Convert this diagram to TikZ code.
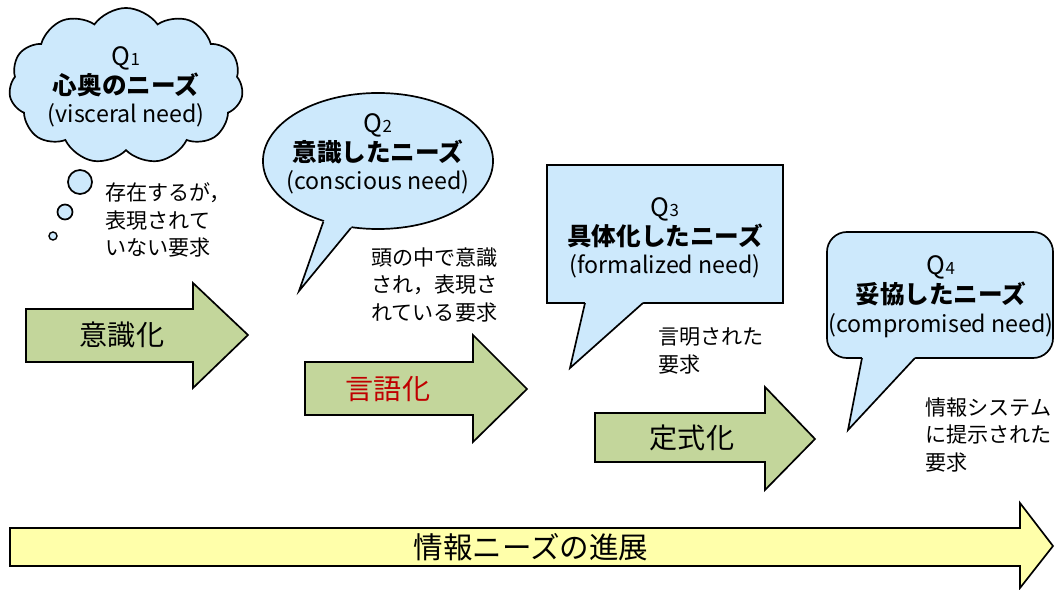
\documentclass[tikz,border=0pt]{standalone}
\usepackage{fontspec}
\setmainfont{Noto Sans CJK JP}
\usetikzlibrary{shapes.symbols,shapes.geometric}

\definecolor{bubblefill}{RGB}{205,233,252}
\definecolor{arrowgreen}{RGB}{195,214,155}
\definecolor{arrowyellow}{RGB}{255,255,170}
\definecolor{darkred}{RGB}{192,0,0}
\newcommand{\qlabel}[1]{{\fontsize{18}{20}\selectfont Q}{\fontsize{12}{12}\selectfont #1}}
\newcommand{\needtitle}[1]{{\fontsize{17.5}{20}\selectfont\bfseries #1}}

\begin{document}
\begin{tikzpicture}[x=0.025cm,y=-0.025cm,
    bubble/.style={draw=black, fill=bubblefill, line width=1.2pt},
    garrow/.style={draw=black, fill=arrowgreen, line width=1.2pt},
    bubbletext/.style={align=center, inner sep=0pt, font=\fontsize{16.5}{20.5}\selectfont},
    note/.style={align=left, inner sep=0pt, anchor=west, font=\fontsize{15}{19.5}\selectfont},
    arrowtext/.style={inner sep=0pt, font=\fontsize{20}{20}\selectfont}]
    \useasboundingbox (0,0) rectangle (1055,590);

    % Q1: cloud
    \node[cloud, bubble, cloud puffs=11, cloud puff arc=110, aspect=1.5,
        minimum width=5.85cm, minimum height=3.9cm] (q1) at (126,86) {};
    \filldraw[bubble] (80,182) circle (12);
    \filldraw[bubble] (65,212) circle (7.5);
    \filldraw[bubble, line width=1pt] (53,236) circle (4);
    \node[bubbletext] (q1t) at (126,87) {\qlabel{1}\\ \needtitle{心奥のニーズ}\\ (visceral need)};
    \node[note] (n1) at (105,220) {存在するが，\\表現されて\\いない要求};

    % Q2: ellipse
    \node[ellipse, bubble, minimum width=5.75cm, minimum height=3.4cm] (q2) at (378,161) {};
    \fill[bubblefill] (q2.228) -- (299,291) -- (q2.248) -- (q2.center) -- cycle;
    \draw[line width=1.2pt] (q2.228) -- (299,291) -- (q2.248);
    \node[bubbletext] (q2t) at (378,154) {\qlabel{2}\\ \needtitle{意識したニーズ}\\ (conscious need)};
    \node[note] (n2) at (371,285) {頭の中で意識\\され，表現さ\\れている要求};

    % Q3: box
    \node[rectangle, bubble, minimum width=5.9cm, minimum height=3.45cm] (q3) at (665,234) {};
    \fill[bubblefill] (585,303) -- (570,368) -- (643,303) -- (643,295) -- (585,295) -- cycle;
    \draw[line width=1.2pt] (585,303) -- (570,368) -- (643,303);
    \node[bubbletext] (q3t) at (665,238) {\qlabel{3}\\ \needtitle{具体化したニーズ}\\ (formalized need)};
    \node[note] (n3) at (658,351) {言明された\\要求};

    % Q4: rounded box
    \node[rectangle, bubble, rounded corners=0.5cm, minimum width=5.65cm, minimum height=3.15cm] (q4) at (940,295) {};
    \fill[bubblefill] (862,358) -- (848,430) -- (915,358) -- (915,350) -- (862,350) -- cycle;
    \draw[line width=1.2pt] (862,358) -- (848,430) -- (915,358);
    \node[bubbletext] (q4t) at (941,297) {\qlabel{4}\\ \needtitle{妥協したニーズ}\\ (compromised need)};
    \node[note] (n4) at (925,435) {情報システム\\に提示された\\要求};

    % green arrows
    \filldraw[garrow] (26,309) -- (193,309) -- (193,283) -- (248,335) -- (193,388) -- (193,362) -- (26,362) -- cycle;
    \node[arrowtext] (a1t) at (122,335) {意識化};
    \filldraw[garrow] (305,362) -- (473,362) -- (473,335) -- (527,389) -- (473,442) -- (473,415) -- (305,415) -- cycle;
    \node[arrowtext, text=darkred] (a2t) at (388,389) {言語化};
    \filldraw[garrow] (595,413) -- (765,413) -- (765,387) -- (815,439) -- (765,490) -- (765,462) -- (595,462) -- cycle;
    \node[arrowtext] (a3t) at (692,438) {定式化};

    % yellow arrow
    \filldraw[draw=black, fill=arrowyellow, line width=1.2pt] (10,528) -- (1020,528) -- (1020,503) -- (1053,546) -- (1020,588) -- (1020,566) -- (10,566) -- cycle;
    \node[inner sep=0pt, font=\fontsize{21}{22}\selectfont] (prog) at (531,547) {情報ニーズの進展};
\end{tikzpicture}
\end{document}
